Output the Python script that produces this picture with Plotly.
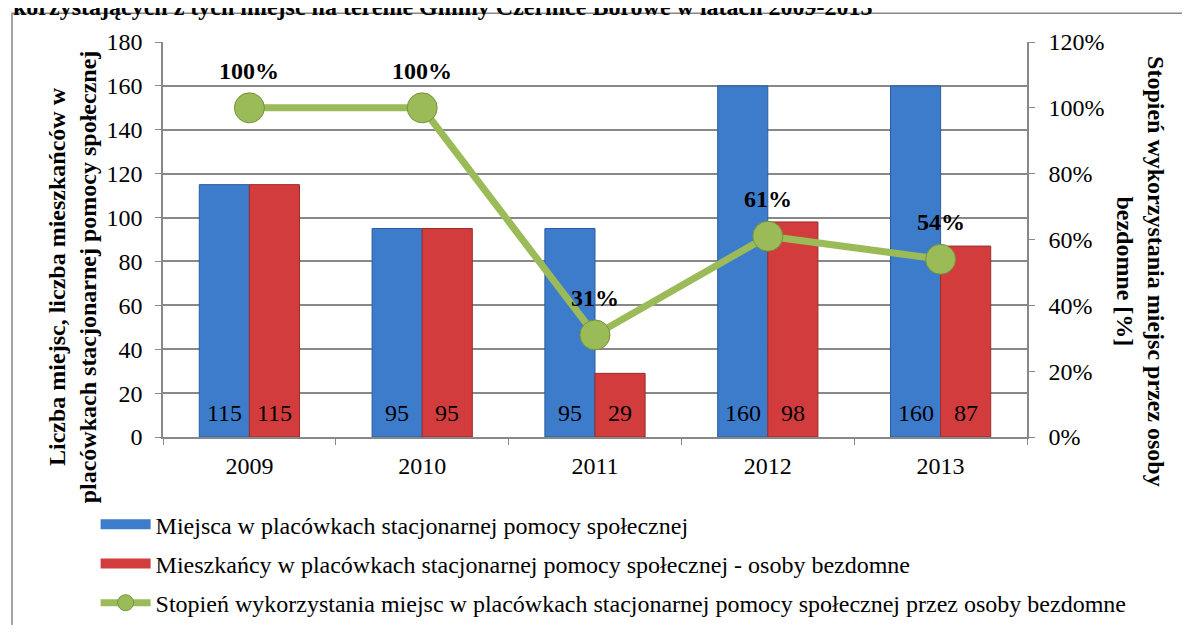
import plotly.graph_objects as go

years = ["2009", "2010", "2011", "2012", "2013"]
places = [115, 95, 95, 160, 160]
residents = [115, 95, 29, 98, 87]
usage = [1.00, 1.00, 0.31, 0.61, 0.54]

name_places = "Miejsca w placówkach stacjonarnej pomocy społecznej"
name_residents = "Mieszkańcy w placówkach stacjonarnej pomocy społecznej - osoby bezdomne"
name_usage = "Stopień wykorzystania miejsc w placówkach stacjonarnej pomocy społecznej przez osoby bezdomne"

serif = "Liberation Serif, Times New Roman, serif"
grey = "#888888"
blue = "#3D7BCB"
red = "#D23C3C"
green = "#9BBB59"

fig = go.Figure()
fig.add_trace(
    go.Bar(
        x=years,
        y=places,
        name=name_places,
        showlegend=False,
        marker={"color": blue, "line": {"color": "#2A5C9E", "width": 1}},
    )
)
fig.add_trace(
    go.Bar(
        x=years,
        y=residents,
        name=name_residents,
        showlegend=False,
        marker={"color": red, "line": {"color": "#9E2A2A", "width": 1}},
    )
)
fig.add_trace(
    go.Scatter(
        x=years,
        y=usage,
        name=name_usage,
        legendgroup="c",
        legendrank=3,
        yaxis="y2",
        mode="lines+markers",
        line={"color": green, "width": 7},
        marker={"size": 30, "color": green, "line": {"color": "#76923C", "width": 1}},
    )
)
# wide legend swatches for the bar series
for name, colour, group, rank in ((name_places, blue, "a", 1), (name_residents, red, "b", 2)):
    fig.add_trace(
        go.Scatter(
            x=[None],
            y=[None],
            name=name,
            legendgroup=group,
            legendrank=rank,
            mode="lines",
            line={"color": colour, "width": 10},
        )
    )

# category axis: annotation positions use the category index
annotations = []
for i, (p, r) in enumerate(zip(places, residents)):
    for value, shift in ((p, -25), (r, 25)):
        annotations.append(
            {
                "x": i,
                "y": 0,
                "xref": "x",
                "yref": "y",
                "text": str(value),
                "showarrow": False,
                "yanchor": "bottom",
                "xshift": shift,
                "yshift": 9,
                "font": {"size": 24, "color": "black", "family": serif},
            }
        )
for i, u in enumerate(usage):
    annotations.append(
        {
            "x": i,
            "y": u,
            "xref": "x",
            "yref": "y2",
            "text": f"<b>{round(u * 100)}%</b>",
            "showarrow": False,
            "yshift": 37,
            "font": {"size": 24, "color": "black", "family": serif},
        }
    )

annotations += [
    {
        "x": -0.105,
        "y": 0.405,
        "xref": "paper",
        "yref": "paper",
        "xanchor": "center",
        "yanchor": "middle",
        "text": "<b>Liczba miejsc, liczba mieszkańców w<br>placówkach stacjonarnej pomocy społecznej</b>",
        "showarrow": False,
        "textangle": -90,
        "font": {"size": 24, "color": "black", "family": serif},
    },
    {
        "x": 1.132,
        "y": 0.42,
        "xref": "paper",
        "yref": "paper",
        "xanchor": "center",
        "yanchor": "middle",
        "text": "<b>Stopień wykorzystania miejsc przez osoby<br>bezdomne [%]</b>",
        "showarrow": False,
        "textangle": 90,
        "font": {"size": 24, "color": "black", "family": serif},
    },
    {
        "x": -0.176,
        "y": 1.051,
        "xref": "paper",
        "yref": "paper",
        "xanchor": "left",
        "yanchor": "bottom",
        "text": "<b>korzystających z tych miejsc na terenie Gminy Czernice Borowe w latach 2009-2013</b>",
        "showarrow": False,
        "font": {"size": 24, "color": "black", "family": serif},
    },
]

axis_common = {
    "showline": True,
    "linecolor": grey,
    "linewidth": 1.5,
    "ticks": "outside",
    "ticklen": 6,
    "tickcolor": grey,
    "tickfont": {"size": 24},
}

fig.update_layout(
    width=1174,
    height=617,
    margin={"l": 155, "r": 155, "t": 34, "b": 188, "autoexpand": False},
    paper_bgcolor="white",
    plot_bgcolor="white",
    barmode="group",
    bargap=0.42,
    bargroupgap=0,
    font={"family": serif, "size": 24, "color": "black"},
    xaxis={
        **axis_common,
        "type": "category",
        "range": [-0.5, len(years) - 0.5],
        "tickson": "boundaries",
        "ticklabelstandoff": 6,
    },
    yaxis={
        **axis_common,
        "range": [0, 180],
        "dtick": 20,
        "showgrid": True,
        "gridcolor": grey,
        "gridwidth": 1.5,
        "zeroline": False,
        "ticklabelstandoff": 8,
    },
    yaxis2={
        **axis_common,
        "range": [0, 1.2],
        "dtick": 0.2,
        "tickformat": ".0%",
        "overlaying": "y",
        "side": "right",
        "showgrid": False,
        "zeroline": False,
        "ticklabelstandoff": 9,
    },
    legend={
        "x": -0.078,
        "y": -0.165,
        "xanchor": "left",
        "yanchor": "top",
        "orientation": "v",
        "font": {"size": 24, "family": serif},
        "tracegroupgap": 5,
        "itemwidth": 50,
        "bgcolor": "rgba(0,0,0,0)",
    },
    annotations=annotations,
    shapes=[
        {
            "type": "rect",
            "xref": "paper",
            "yref": "paper",
            "x0": -0.1748,
            "x1": 1.2,
            "y0": -0.6,
            "y1": 1.073,
            "line": {"color": grey, "width": 1.5},
            "layer": "below",
        }
    ],
)

fig.write_html("out.html")
